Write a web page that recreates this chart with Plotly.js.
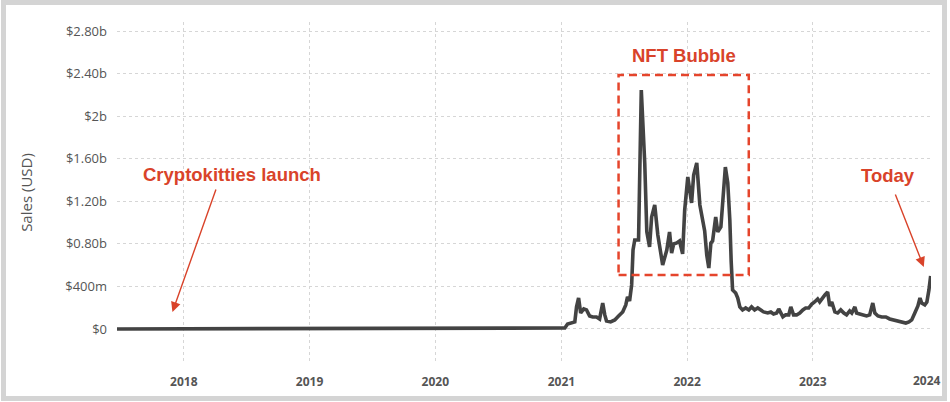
<!DOCTYPE html>
<html>
<head>
<meta charset="utf-8">
<script src="https://cdn.plot.ly/plotly-3.0.1.min.js"></script>
<style>
  html, body { margin:0; padding:0; background:#fff; }
  #wrap { position:relative; width:950px; height:402px; }
  #chart { position:absolute; left:0; top:0; width:950px; height:402px; }
  #frame { position:absolute; left:1px; top:0px; width:946px; height:401px; box-sizing:border-box;
           border:5px solid #d4d4d4; pointer-events:none; }
</style>
</head>
<body>
<div id="wrap"><div id="chart"></div><div id="frame"></div></div>
<script>
// Weekly NFT sales (USD millions)
const dates = [
 '2017-06-21','2017-08-01','2017-10-01','2017-12-01','2017-12-20','2018-01-15','2018-03-01','2018-05-01',
 '2018-07-01','2018-09-01','2018-11-01','2019-01-01','2019-03-01','2019-05-01','2019-07-01','2019-09-01',
 '2019-11-01','2020-01-01','2020-03-01','2020-05-01','2020-07-01','2020-09-01','2020-11-01','2020-12-20',
 '2021-01-11','2021-01-19','2021-01-28','2021-02-09','2021-02-14','2021-02-20','2021-02-26','2021-03-07',
 '2021-03-15','2021-03-24','2021-04-02','2021-04-13','2021-04-22','2021-05-01','2021-05-07','2021-05-12',
 '2021-05-24','2021-06-05','2021-06-16','2021-06-28','2021-07-07','2021-07-12','2021-07-18','2021-07-24',
 '2021-07-28','2021-08-02','2021-08-13','2021-08-21','2021-08-31','2021-09-06','2021-09-14','2021-09-20',
 '2021-09-29','2021-10-08','2021-10-16','2021-10-22','2021-11-03','2021-11-11','2021-11-17','2021-11-23',
 '2021-12-02','2021-12-10','2021-12-19','2021-12-25','2022-01-03','2022-01-08','2022-01-14','2022-01-20',
 '2022-01-29','2022-02-07','2022-02-15','2022-02-21','2022-02-27','2022-03-05','2022-03-11','2022-03-16',
 '2022-03-25','2022-03-31','2022-04-09','2022-04-14','2022-04-22','2022-04-29','2022-05-05','2022-05-09',
 '2022-05-13','2022-05-22','2022-05-28','2022-06-03','2022-06-11','2022-06-20','2022-06-29','2022-07-07',
 '2022-07-16','2022-07-25','2022-08-03','2022-08-11','2022-08-23','2022-09-01','2022-09-09','2022-09-18',
 '2022-09-24','2022-10-06','2022-10-14','2022-10-23','2022-10-29','2022-11-06','2022-11-15','2022-11-24',
 '2022-12-03','2022-12-11','2022-12-20','2022-12-29','2023-01-06','2023-01-15','2023-01-21','2023-01-30',
 '2023-02-05','2023-02-13','2023-02-19','2023-02-25','2023-03-06','2023-03-14','2023-03-23','2023-04-01',
 '2023-04-09','2023-04-18','2023-04-24','2023-05-03','2023-05-08','2023-05-17','2023-05-29','2023-06-06',
 '2023-06-15','2023-06-24','2023-06-30','2023-07-09','2023-07-20','2023-08-01','2023-08-12','2023-08-24',
 '2023-09-05','2023-09-16','2023-09-28','2023-10-07','2023-10-15','2023-10-24','2023-11-02','2023-11-08',
 '2023-11-13','2023-11-22','2023-11-28','2023-12-04','2023-12-09'
];
const salesM = [
 0.1,0.2,0.3,2,5,4,2,1.5,
 1,1,1.2,1,1,1.5,2,1.5,
 1.5,2,2,2.5,3,4,5,8,
 9,47,56,66,207,291,150,188,
 179,122,113,113,94,244,132,75,
 66,85,122,160,226,301,263,414,
 742,836,836,2246,1560,912,771,1053,
 1165,883,724,601,742,912,714,799,
 808,827,705,1118,1428,1335,1184,1447,
 1560,1165,1006,921,695,573,808,827,
 1053,912,959,1147,1522,1372,1024,630,
 367,338,291,207,179,197,179,207,
 179,197,179,160,150,160,141,150,
 188,113,132,132,207,132,132,150,
 179,197,197,235,254,282,254,301,
 320,348,216,254,160,150,179,150,
 132,169,150,207,150,141,132,122,
 132,244,150,122,113,113,94,85,
 75,66,56,66,85,150,216,291,
 244,226,254,367,498
];
const yTickVals = [0,400,800,1200,1600,2000,2400,2800];
const yTickText = ['$0','$400m','$0.80b','$1.20b','$1.60b','$2b','$2.40b','$2.80b'];
const xTickVals = ['2018-01-01','2019-01-01','2020-01-01','2021-01-01','2022-01-01','2023-01-01'];
const xTickText = ['2018','2019','2020','2021','2022','2023'];

const RED = '#d9432a';
const GRAY = '#555555';
const ANN_FONT = '"Liberation Sans", Arial, sans-serif';

const trace = {
  x: dates, y: salesM, type: 'scatter', mode: 'lines',
  line: {color: '#434343', width: 3.6}, hoverinfo: 'skip'
};

const layout = {
  width: 950, height: 402,
  margin: {l: 117, r: 19, t: 22, b: 39},
  paper_bgcolor: 'rgba(0,0,0,0)', plot_bgcolor: '#fff',
  showlegend: false,
  font: {family: '"Open Sans", sans-serif', color: GRAY},
  xaxis: {
    type: 'date', range: ['2017-06-21', '2023-12-10'],
    tickvals: xTickVals, ticktext: xTickText,
    tickfont: {size: 12, color: GRAY, weight: 'bold'},
    ticklabelstandoff: 10,
    showgrid: true, gridcolor: '#d6d6d6', griddash: 'dot', gridwidth: 1,
    zeroline: false, showline: false, ticks: ''
  },
  yaxis: {
    range: [-320, 2885],
    tickvals: yTickVals, ticktext: yTickText,
    tickfont: {size: 13, color: GRAY},
    ticklabelstandoff: 9,
    showgrid: true, gridcolor: '#d6d6d6', griddash: 'dot', gridwidth: 1,
    zeroline: false, showline: false, ticks: '',
    title: {text: 'Sales (USD)', font: {size: 15, color: GRAY}, standoff: 28}
  },
  shapes: [{
    type: 'rect', xref: 'x', yref: 'y',
    x0: '2021-06-16', x1: '2022-06-29', y0: 507, y1: 2387,
    line: {color: '#e5452c', width: 2.5, dash: '8px,5px'}, fillcolor: 'rgba(0,0,0,0)'
  }],
  annotations: [
    {xref: 'paper', yref: 'paper', x: 1, y: 0, xshift: -4, yshift: -17, xanchor: 'center', yanchor: 'middle',
     text: '2024', showarrow: false, font: {size: 12, color: GRAY, weight: 'bold'}},
    {xref: 'x', yref: 'y', x: '2017-11-29', y: 160, ax: 44, ay: -124, text: '', showarrow: true,
     arrowhead: 2, arrowsize: 1.4, arrowwidth: 1.4, arrowcolor: RED},
    {xref: 'x', yref: 'y', x: '2018-05-20', y: 1455, text: '<b>Cryptokitties launch</b>', showarrow: false,
     font: {family: ANN_FONT, size: 18.5, color: RED}},
    {xref: 'x', yref: 'y', x: '2021-12-22', y: 2570, text: '<b>NFT Bubble</b>', showarrow: false,
     font: {family: ANN_FONT, size: 18.5, color: RED}},
    {xref: 'x', yref: 'y', x: '2023-11-19', y: 583, ax: -29, ay: -74, text: '', showarrow: true,
     arrowhead: 2, arrowsize: 1.4, arrowwidth: 1.4, arrowcolor: RED},
    {xref: 'x', yref: 'y', x: '2023-08-08', y: 1445, text: '<b>Today</b>', showarrow: false,
     font: {family: ANN_FONT, size: 18.5, color: RED}}
  ]
};

Plotly.newPlot('chart', [trace], layout, {displayModeBar: false, staticPlot: true});
</script>
</body>
</html>
